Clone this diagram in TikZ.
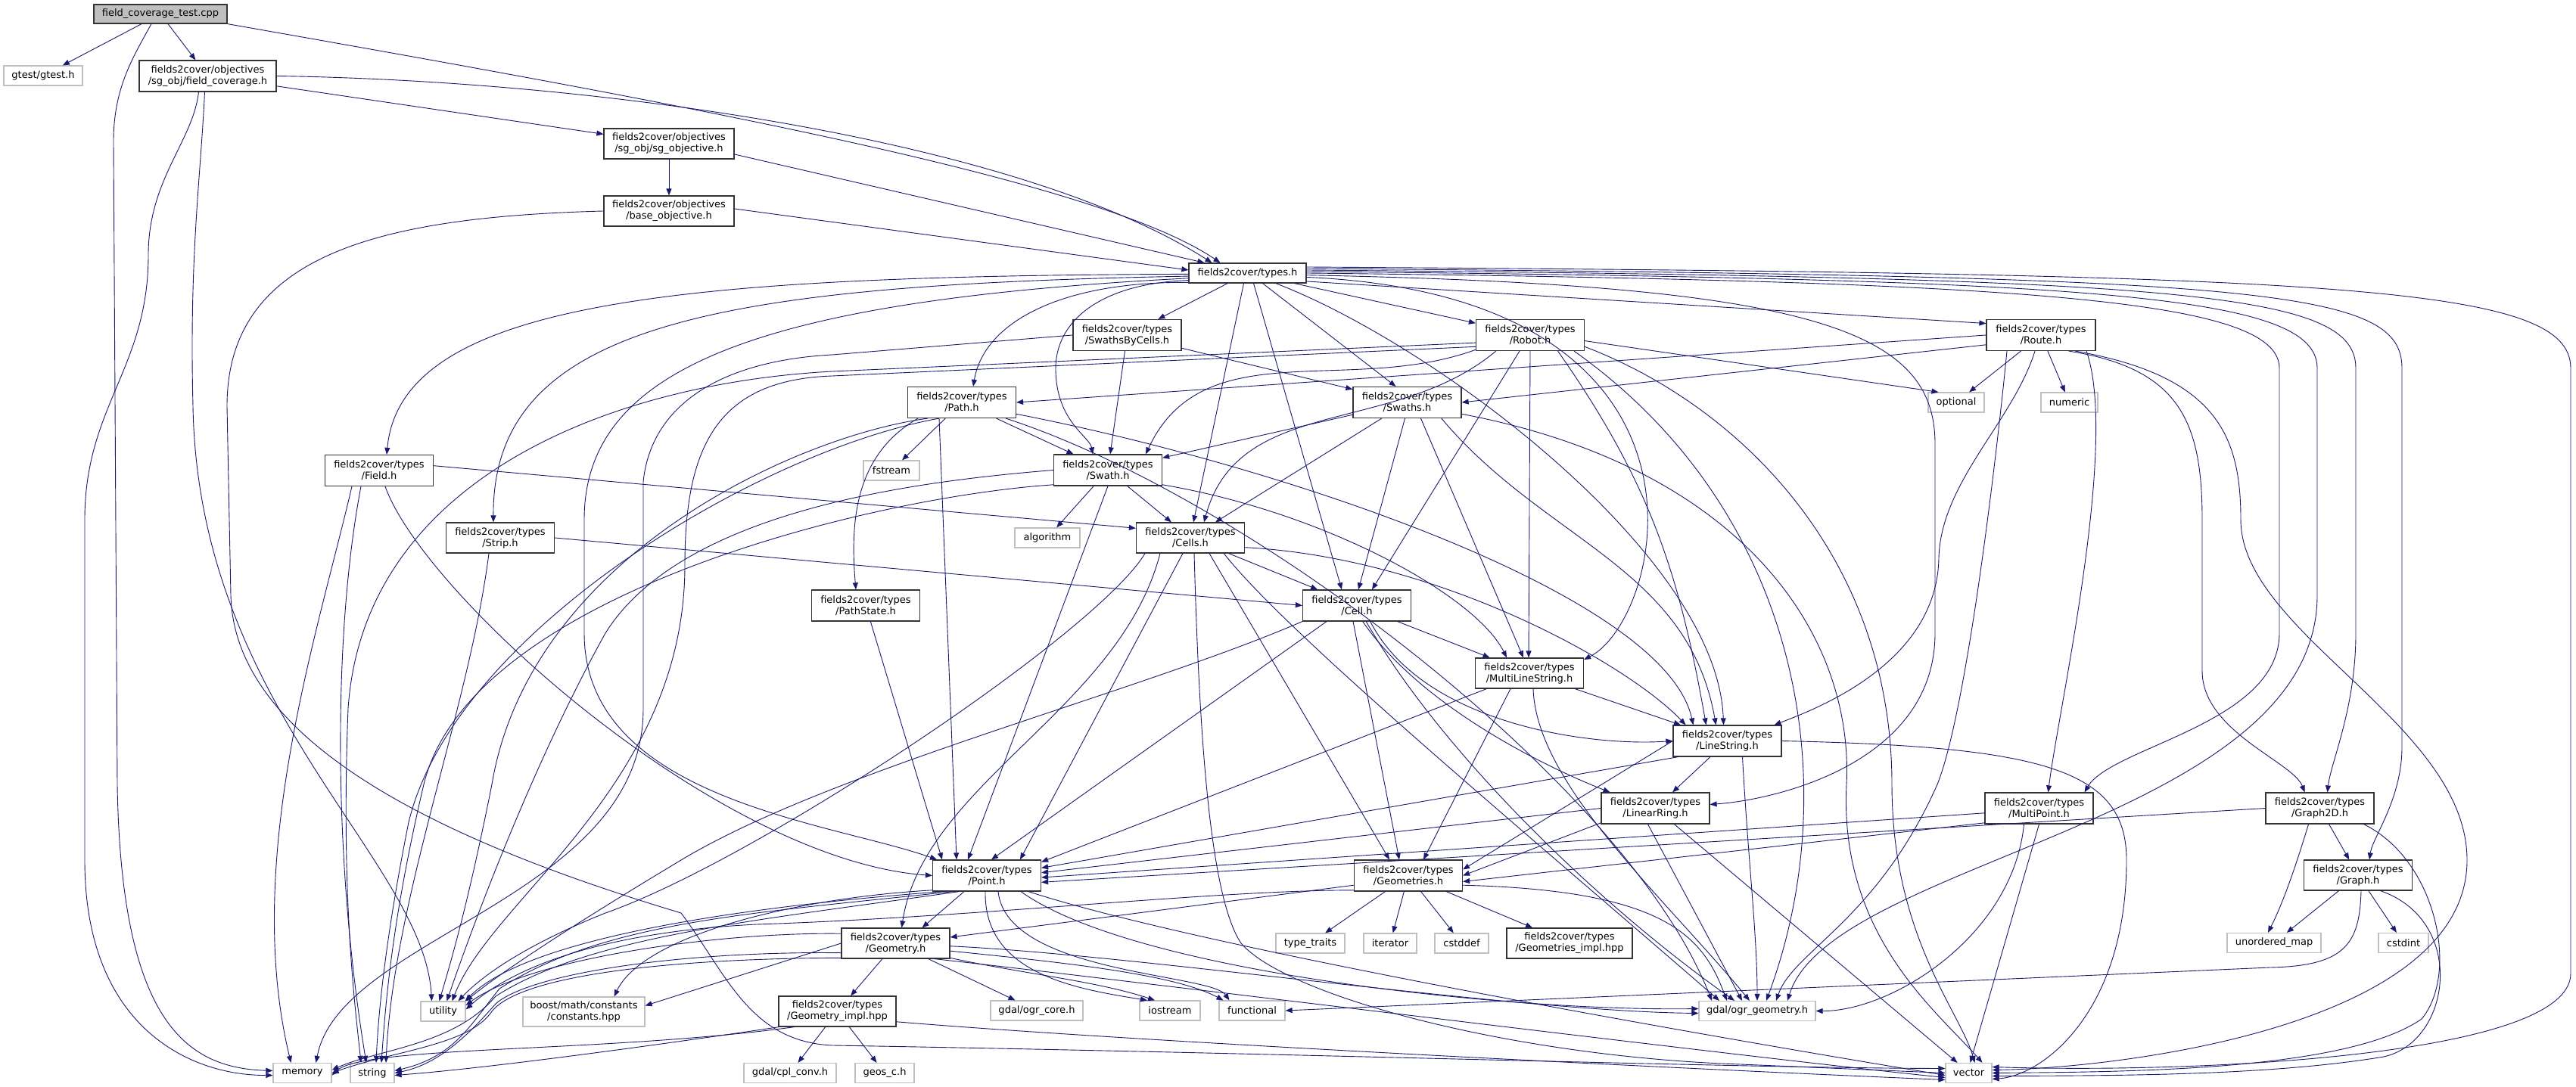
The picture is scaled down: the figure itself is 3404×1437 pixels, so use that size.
\documentclass[tikz,border=0pt]{standalone}
\usepackage{fontspec}
\setmainfont{DejaVu Sans}
\usetikzlibrary{arrows.meta}
\definecolor{ecol}{HTML}{191970}
\definecolor{gborder}{HTML}{BFBFBF}
\definecolor{rootgray}{HTML}{BFBFBF}
\definecolor{bordercol}{HTML}{333333}
\begin{document}
\begin{tikzpicture}[x=1pt,y=1pt,
  box/.style={draw=bordercol, line width=1.2pt, fill=white, minimum width=143pt, minimum height=41pt, inner sep=1pt, align=center, font=\fontsize{13}{15}\selectfont},
  sys/.style={draw=gborder, line width=1.2pt, fill=white, minimum height=26pt, inner sep=1pt, align=center, font=\fontsize{13}{15}\selectfont},
  e/.style={draw=ecol, line width=0.9pt, -{Triangle[length=9pt,width=7pt]}}]
\useasboundingbox[fill=white] (0,0) rectangle (3404,1437);
% ---------------- nodes
\node[box,fill=rootgray,minimum width=176pt,minimum height=25pt] (cpp) at (212,1418.5) {field\_coverage\_test.cpp};
\node[sys,minimum width=104pt] (gtest) at (57,1337) {gtest/gtest.h};
\node[box,minimum width=181pt] (fcov) at (274.5,1336.5) {fields2cover/objectives\\/sg\_obj/field\_coverage.h};
\node[box,minimum width=172pt,minimum height=40pt] (sgobj) at (884,1247) {fields2cover/objectives\\/sg\_obj/sg\_objective.h};
\node[box,minimum width=172pt,minimum height=40pt] (baseobj) at (884,1158) {fields2cover/objectives\\/base\_objective.h};
\node[box,minimum width=155pt,minimum height=26pt] (types) at (1648.5,1076) {fields2cover/types.h};
\node[box] (sbc) at (1489.5,994) {fields2cover/types\\/SwathsByCells.h};
\node[box] (robot) at (2022,994) {fields2cover/types\\/Robot.h};
\node[box,minimum width=144pt] (route) at (2697,994) {fields2cover/types\\/Route.h};
\node[box] (path) at (1271,905) {fields2cover/types\\/Path.h};
\node[box] (swaths) at (1859.5,905) {fields2cover/types\\/Swaths.h};
\node[sys,minimum width=74pt] (fstream) at (1178,815) {fstream};
\node[box] (swath) at (1464,815.5) {fields2cover/types\\/Swath.h};
\node[sys,minimum width=86pt] (algorithm) at (1384,726) {algorithm};
\node[box,minimum height=40pt] (cells) at (1573,726) {fields2cover/types\\/Cells.h};
\node[sys,minimum width=74pt] (optional) at (2585,905) {optional};
\node[sys,minimum width=75pt] (numeric) at (2734.5,905) {numeric};
\node[box] (field) at (501,815) {fields2cover/types\\/Field.h};
\node[box,minimum height=40pt] (strip) at (661,726) {fields2cover/types\\/Strip.h};
\node[box] (pathstate) at (1144,636.5) {fields2cover/types\\/PathState.h};
\node[box] (cell) at (1793,636.5) {fields2cover/types\\/Cell.h};
\node[box,minimum height=40pt] (mls) at (2021,547) {fields2cover/types\\/MultiLineString.h};
\node[box] (linestring) at (2282.5,457.5) {fields2cover/types\\/LineString.h};
\node[box] (linearring) at (2187.5,368.5) {fields2cover/types\\/LinearRing.h};
\node[box] (multipoint) at (2694.5,368.5) {fields2cover/types\\/MultiPoint.h};
\node[box] (graph2d) at (3065.5,368.5) {fields2cover/types\\/Graph2D.h};
\node[box,minimum height=40pt] (graph) at (3116,280) {fields2cover/types\\/Graph.h};
\node[sys,minimum width=124pt] (umap) at (3005,190.5) {unordered\_map};
\node[sys,minimum width=66pt] (cstdint) at (3176,190.5) {cstdint};
\node[box] (point) at (1304,279.5) {fields2cover/types\\/Point.h};
\node[box] (geometries) at (1861,279.5) {fields2cover/types\\/Geometries.h};
\node[box,minimum height=40pt] (geometry) at (1183.5,190) {fields2cover/types\\/Geometry.h};
\node[box,minimum width=155pt,minimum height=40pt] (geomimpl) at (1106.5,100) {fields2cover/types\\/Geometry\_impl.hpp};
\node[sys,minimum width=122pt] (ogrcore) at (1370,101) {gdal/ogr\_core.h};
\node[sys,minimum width=80pt] (iostream) at (1546,101) {iostream};
\node[sys,minimum width=87pt] (functional) at (1654.5,101) {functional};
\node[sys,minimum width=91pt] (typetraits) at (1731.5,190) {type\_traits};
\node[sys,minimum width=70pt] (iterator) at (1837,190) {iterator};
\node[sys,minimum width=71pt] (cstddef) at (1931.5,190) {cstddef};
\node[box,minimum width=166pt,minimum height=40pt] (geomsimpl) at (2074,190) {fields2cover/types\\/Geometries\_impl.hpp};
\node[sys,minimum width=154pt] (ogrgeom) at (2322,100.5) {gdal/ogr\_geometry.h};
\node[sys,minimum width=61pt] (vector) at (2601.5,18.5) {vector};
\node[sys,minimum width=59pt] (utility) at (585.5,100) {utility};
\node[sys,minimum width=161pt,minimum height=39pt] (boost) at (771.5,99.5) {boost/math/constants\\/constants.hpp};
\node[sys,minimum width=77pt] (memory) at (399.5,18.5) {memory};
\node[sys,minimum width=58pt] (string) at (492,18.5) {string};
\node[sys,minimum width=122pt] (cplconv) at (1044,18.5) {gdal/cpl\_conv.h};
\node[sys,minimum width=78pt] (geosc) at (1169,18.5) {geos\_c.h};
% ---------------- edges: top part
\draw[e] (cpp) -- (gtest);
\draw[e] (cpp) -- (fcov);
\draw[e] (cpp.south east) .. controls (900,1300) and (1450,1200) .. ([xshift=-36pt]types.north);
\draw[e] ([xshift=-12pt]cpp.south) .. controls (175,1360) and (150,1320) .. (150,1250) -- (155,400) .. controls (160,80) and (250,25) .. ([yshift=3pt]memory.west);
\draw[e] (fcov) -- (sgobj);
\draw[e] (fcov.east) .. controls (800,1330) and (1350,1250) .. ([xshift=-47pt]types.north);
\draw[e] ([xshift=-12pt]fcov.south) .. controls (255,1250) and (196,1200) .. (196,1100) .. controls (196,950) and (112,900) .. (112,750) -- (112,300) .. controls (112,80) and (250,15) .. ([yshift=-3pt]memory.west);
\draw[e] ([xshift=-4pt]fcov.south) .. controls (265,1200) and (250,1100) .. (255,900) .. controls (262,500) and (560,300) .. ([xshift=-15pt]utility.north);
\draw[e] (sgobj) -- (baseobj);
\draw[e] ([yshift=-14pt]sgobj.east) -- ([xshift=-57pt]types.north);
\draw[e] ([yshift=3pt]baseobj.east) -- ([yshift=4pt]types.west);
\draw[e] (baseobj.west) .. controls (500,1150) and (300,1100) .. (300,900) -- (305,650) .. controls (310,450) and (600,320) .. (900,230) .. controls (960,150) and (990,60) .. (1100,55) .. controls (1700,45) and (2300,25) .. ([yshift=6pt]vector.west);
% ---------------- types
\draw[e] (types) -- (sbc);
\draw[e] (types) -- (robot);
\draw[e] (types.-8) -- (route.168);
\draw[e] (types.189) .. controls (1400,1065) and (1300,1010) .. ([xshift=15pt]path.north);
\draw[e] (types.187) .. controls (1450,1062) and (1395,1010) .. (1395,950) .. controls (1395,880) and (1440,860) .. ([xshift=-20pt]swath.north);
\draw[e] ([xshift=-5pt]types.south) -- ([xshift=4pt]cells.north);
\draw[e] ([xshift=8pt]types.south) -- ([xshift=-20pt]cell.north);
\draw[e] ([xshift=20pt]types.south) -- ([xshift=-15pt]swaths.north);
\draw[e] (types.181) .. controls (900,1072) and (530,1040) .. ([xshift=10pt]field.north);
\draw[e] (types.183) .. controls (950,1060) and (650,1010) .. ([xshift=-9pt]strip.north);
\draw[e] (types.185) .. controls (1000,1040) and (772,950) .. (772,750) -- (772,600) .. controls (772,380) and (1100,350) .. ([xshift=-66pt]point.north);
\draw[e] (types.-20) .. controls (1900,980) and (2270,700) .. ([xshift=-5pt]linestring.north);
\draw[e] (types.-4) .. controls (2300,1045) and (2200,620) .. (mls.14);
\draw[e] (types.-2) .. controls (2400,1060) and (2557,1000) .. (2557,850) -- (2557,600) .. controls (2557,430) and (2350,380) .. ([yshift=5pt]linearring.east);
\draw[e] (types.east) .. controls (2700,1065) and (3012,1040) .. (3012,950) -- (3012,600) .. controls (3012,480) and (2790,450) .. ([xshift=60pt]multipoint.north);
\draw[e] ([yshift=2pt]types.east) .. controls (2800,1068) and (3062,1045) .. (3062,950) -- (3062,650) .. controls (3062,350) and (2420,300) .. ([xshift=40pt]ogrgeom.north);
\draw[e] ([yshift=4pt]types.east) .. controls (2900,1070) and (3113,1050) .. (3113,950) -- (3113,600) .. controls (3113,500) and (3080,430) .. ([xshift=10pt]graph2d.north);
\draw[e] ([yshift=6pt]types.east) .. controls (3000,1072) and (3174,1055) .. (3174,950) -- (3174,450) .. controls (3174,380) and (3135,330) .. ([xshift=15pt]graph.north);
\draw[e] ([yshift=8pt]types.east) .. controls (3100,1075) and (3397,1060) .. (3397,950) -- (3397,150) .. controls (3397,40) and (2900,18) .. ([yshift=8pt]vector.east);
% ---------------- SwathsByCells, Robot, Route
\draw[e] (sbc) -- (swaths);
\draw[e] (sbc) -- (swath);
\draw[e] (sbc.west) -- (1100,968) .. controls (950,960) and (860,900) .. (850,800) -- (850,500) .. controls (850,250) and (450,200) .. ([xshift=18pt]memory.north);
\draw[e] (robot.195) to[out=200,in=65] ([xshift=50pt]swath.north);
\draw[e] (robot.205) to[out=220,in=75] ([xshift=18pt]cells.north);
\draw[e] ([xshift=-14pt]robot.south) -- ([xshift=20pt]cell.north);
\draw[e] (robot.south) -- ([xshift=-1pt]mls.north);
\draw[e] (robot.-30) to[out=-55,in=100] ([xshift=-28pt]linestring.north);
\draw[e] (robot.-6) -- (optional.150);
\draw[e] (robot.-20) .. controls (2380,760) and (2440,400) .. ([xshift=12pt]ogrgeom.north);
\draw[e] (robot.-12) .. controls (2300,900) and (2500,700) .. (2500,400) .. controls (2500,200) and (2590,100) .. ([xshift=8pt]vector.north);
\draw[e] (robot.188) -- (1100,946) .. controls (800,930) and (480,800) .. (460,500) .. controls (450,250) and (470,100) .. ([xshift=-15pt]string.north);
\draw[e] (robot.192) -- (1100,940) .. controls (950,935) and (905,850) .. (905,690) .. controls (905,400) and (650,250) .. ([xshift=12pt]utility.north);
\draw[e] (route.west) -- (path.east);
\draw[e] (route.190) -- (swaths.east);
\draw[e] (route) -- (optional);
\draw[e] (route) -- (numeric);
\draw[e] ([xshift=-8pt]route.south) .. controls (2660,880) and (2565,800) .. (2562,700) .. controls (2560,560) and (2400,500) .. ([xshift=62pt]linestring.north);
\draw[e] ([xshift=-45pt]route.south) .. controls (2640,850) and (2600,500) .. (2560,400) .. controls (2480,220) and (2370,180) .. ([xshift=25pt]ogrgeom.north);
\draw[e] ([xshift=60pt]route.south) .. controls (2800,850) and (2720,500) .. ([xshift=12pt]multipoint.north);
\draw[e] (route.-30) .. controls (2880,950) and (2910,880) .. (2910,750) -- (2910,550) .. controls (2910,470) and (3030,430) .. ([xshift=-20pt]graph2d.north);
\draw[e] (route.-25) .. controls (2930,940) and (2961,860) .. (2961,750) .. controls (2961,600) and (3260,480) .. (3260,300) .. controls (3260,80) and (2800,25) .. ([yshift=4pt]vector.east);
% ---------------- Path, Swaths, Swath
\draw[e] (path) -- (fstream);
\draw[e] (path) -- (swath);
\draw[e] (path.200) to[out=210,in=95] ([xshift=-13pt]pathstate.north);
\draw[e] ([xshift=-30pt]path.south) -- ([xshift=-40pt]point.north);
\draw[e] (path.-12) .. controls (1700,820) and (2200,650) .. ([xshift=-45pt]linestring.north);
\draw[e] (path.-20) .. controls (1650,780) and (2150,400) .. ([xshift=-60pt]ogrgeom.north);
\draw[e] (path.205) .. controls (1050,860) and (700,700) .. (650,400) .. controls (620,250) and (600,180) .. ([xshift=-5pt]utility.north);
\draw[e] (path.215) .. controls (1000,840) and (600,600) .. (540,350) .. controls (510,200) and (500,100) .. ([xshift=5pt]string.north);
\draw[e] (swaths) -- (swath);
\draw[e] (swaths) -- (cells);
\draw[e] ([xshift=-3pt]swaths.south) -- ([xshift=2pt]cell.north);
\draw[e] ([xshift=18pt]swaths.south) -- ([xshift=-8pt]mls.north);
\draw[e] (swaths.-25) to[out=-50,in=100] ([xshift=-15pt]linestring.north);
\draw[e] (swaths.-12) .. controls (2300,820) and (2450,600) .. (2440,400) .. controls (2430,200) and (2560,100) .. ([xshift=18pt]vector.north);
\draw[e] (swath) -- (algorithm);
\draw[e] (swath) -- (cells);
\draw[e] (swath.south) -- ([xshift=-25pt]point.north);
\draw[e] (swath.-15) .. controls (1750,760) and (1950,650) .. ([xshift=-30pt]mls.north);
\draw[e] (swath.west) .. controls (1200,800) and (900,760) .. (800,600) .. controls (700,420) and (620,200) .. ([xshift=5pt]utility.north);
\draw[e] (swath.195) .. controls (1150,780) and (620,650) .. (560,400) .. controls (520,230) and (510,120) .. ([xshift=12pt]string.north);
% ---------------- Field, Strip, PathState
\draw[e] (field.5) -- (cells.170);
\draw[e] ([xshift=-36pt]field.south) .. controls (420,600) and (320,300) .. ([xshift=-15pt]memory.north);
\draw[e] ([xshift=-24pt]field.south) .. controls (440,600) and (440,300) .. ([xshift=-8pt]string.north);
\draw[e] ([xshift=8pt]field.south) .. controls (560,650) and (950,300) .. (point.west);
\draw[e] (strip.east) -- (cell.west);
\draw[e] ([xshift=-15pt]strip.south) .. controls (620,500) and (520,250) .. ([xshift=18pt]string.north);
\draw[e] (pathstate) -- ([xshift=-59pt]point.north);
% ---------------- Cells, Cell
\draw[e] (cells) -- (cell);
\draw[e] ([xshift=-10pt]cells.south) -- ([xshift=44pt]point.north);
\draw[e] ([xshift=-40pt]cells.south) .. controls (1480,500) and (1220,400) .. ([xshift=8pt]geometry.north);
\draw[e] ([xshift=25pt]cells.south) -- ([xshift=-25pt]geometries.north);
\draw[e] (cells.-10) .. controls (1900,700) and (2150,560) .. ([xshift=-55pt]linestring.north);
\draw[e] (cells.-25) .. controls (1700,600) and (2000,350) .. ([xshift=-50pt]ogrgeom.north);
\draw[e] ([xshift=-60pt]cells.south) .. controls (1450,600) and (1000,300) .. (800,230) .. controls (700,190) and (640,150) .. ([xshift=20pt]utility.north);
\draw[e] ([xshift=5pt]cells.south) .. controls (1585,450) and (1600,250) .. (1640,190) .. controls (1700,120) and (2000,40) .. (2300,30) -- ([yshift=0pt]vector.west);
\draw[e] (cell) -- (mls);
\draw[e] (cell.-50) .. controls (1880,480) and (2100,450) .. (linestring.west);
\draw[e] (cell.-70) .. controls (1880,500) and (2050,420) .. ([xshift=-60pt]linearring.north);
\draw[e] ([xshift=-40pt]cell.south) -- ([xshift=6pt]point.north);
\draw[e] ([xshift=-5pt]cell.south) -- ([xshift=-12pt]geometries.north);
\draw[e] (cell.-60) .. controls (1900,450) and (2100,250) .. ([xshift=-30pt]ogrgeom.north);
\draw[e] (cell.south west) .. controls (1500,520) and (1100,420) .. (900,300) .. controls (750,210) and (660,150) .. (utility.north east);
% ---------------- MultiLineString, LineString, LinearRing, MultiPoint
\draw[e] (mls) -- (linestring);
\draw[e] ([xshift=-25pt]mls.south) -- ([xshift=20pt]geometries.north);
\draw[e] (mls.200) -- (point.14);
\draw[e] ([xshift=5pt]mls.south) .. controls (2030,400) and (2200,250) .. ([xshift=-10pt]ogrgeom.north);
\draw[e] (linestring) -- (linearring);
\draw[e] (linestring.198) -- (point.8);
\draw[e] (linestring.west) -- ([yshift=8pt]geometries.east);
\draw[e] ([xshift=20pt]linestring.south) .. controls (2310,300) and (2322,200) .. (ogrgeom.north);
\draw[e] (linestring.east) .. controls (2700,450) and (2810,420) .. (2810,300) .. controls (2810,100) and (2700,15) .. ([yshift=-8pt]vector.east);
\draw[e] (linearring.west) -- (point.3);
\draw[e] (linearring.195) -- (geometries.east);
\draw[e] ([xshift=-10pt]linearring.south) -- ([xshift=-20pt]ogrgeom.north);
\draw[e] (linearring) -- ([xshift=-15pt]vector.north);
\draw[e] (multipoint.185) -- (point.-2);
\draw[e] (multipoint.195) -- ([yshift=-8pt]geometries.east);
\draw[e] ([xshift=-20pt]multipoint.south) .. controls (2660,200) and (2500,100) .. (ogrgeom.east);
\draw[e] (multipoint.south) -- ([xshift=2pt]vector.north);
% ---------------- Graph2D, Graph
\draw[e] (graph2d) -- (graph);
\draw[e] ([xshift=-15pt]graph2d.south) .. controls (3030,280) and (3015,240) .. ([xshift=-8pt]umap.north);
\draw[e] (graph2d.west) -- (point.-7);
\draw[e] (graph2d.-20) .. controls (3220,300) and (3250,150) .. (3200,90) .. controls (3100,20) and (2800,20) .. ([yshift=0pt]vector.east);
\draw[e] (graph) -- (umap);
\draw[e] (graph) -- (cstdint);
\draw[e] ([xshift=4pt]graph.south) .. controls (3118,190) and (3100,160) .. (3000,158) -- (functional.east);
\draw[e] (graph.-35) .. controls (3260,220) and (3240,60) .. (3150,40) .. controls (3000,15) and (2800,15) .. ([yshift=-4pt]vector.east);
% ---------------- Point, Geometry, Geometries
\draw[e] ([xshift=-30pt]point.south) -- ([xshift=35pt]geometry.north);
\draw[e] ([xshift=-2pt]point.south) .. controls (1300,150) and (1420,130) .. ([xshift=-30pt]iostream.north);
\draw[e] ([xshift=15pt]point.south) .. controls (1330,150) and (1600,150) .. ([xshift=-30pt]functional.north);
\draw[e] ([xshift=45pt]point.south) .. controls (1500,150) and (2000,100) .. ([yshift=3pt]ogrgeom.west);
\draw[e] ([xshift=55pt]point.south) .. controls (1600,180) and (2300,60) .. ([yshift=-3pt]vector.west);
\draw[e] (point.195) .. controls (1050,250) and (850,200) .. ([xshift=40pt]boost.north);
\draw[e] (point.200) .. controls (1000,240) and (700,200) .. (utility.25);
\draw[e] (point.205) .. controls (1000,230) and (800,220) .. (660,130) .. controls (620,80) and (600,40) .. ([yshift=3pt]string.east);
\draw[e] (point.210) .. controls (1000,220) and (780,200) .. (655,120) .. controls (600,55) and (500,50) .. ([yshift=4pt]memory.east);
\draw[e] (geometry) -- (geomimpl);
\draw[e] (geometry) -- (ogrcore);
\draw[e] (geometry.-15) .. controls (1350,150) and (1450,140) .. ([xshift=-20pt]iostream.north);
\draw[e] (geometry.-8) .. controls (1400,165) and (1550,150) .. ([xshift=-38pt]functional.north);
\draw[e] (geometry.-3) .. controls (1500,175) and (2000,100) .. ([yshift=-3pt]ogrgeom.west);
\draw[e] (geometry.-22) .. controls (1500,140) and (2300,40) .. ([yshift=-6pt]vector.west);
\draw[e] (geometry.west) -- ([yshift=8pt]boost.east);
\draw[e] (geometry.170) .. controls (950,205) and (700,170) .. (utility.15);
\draw[e] (geometry.190) .. controls (900,180) and (700,150) .. (655,110) .. controls (620,70) and (580,30) .. (string.east);
\draw[e] (geometry.195) .. controls (900,170) and (690,150) .. (650,100) .. controls (620,55) and (520,48) .. (memory.east);
\draw[e] (geomimpl) -- (cplconv);
\draw[e] (geomimpl) -- (geosc);
\draw[e] (geomimpl.195) .. controls (900,60) and (650,25) .. ([yshift=-3pt]string.east);
\draw[e] (geomimpl.200) .. controls (800,45) and (480,55) .. ([yshift=-3pt]memory.east);
\draw[e] (geomimpl.-10) .. controls (1500,60) and (2200,25) .. ([yshift=-9pt]vector.west);
\draw[e] (geometries) -- (typetraits);
\draw[e] (geometries) -- (iterator);
\draw[e] (geometries) -- (cstddef);
\draw[e] (geometries) -- (geomsimpl);
\draw[e] (geometries.190) -- ([yshift=8pt]geometry.east);
\draw[e] (geometries.-10) .. controls (2200,260) and (2250,200) .. ([xshift=-40pt]ogrgeom.north);
\draw[e] (geometries.195) .. controls (1600,260) and (1300,225) .. (1000,215) .. controls (800,205) and (680,160) .. (utility.5);
\end{tikzpicture}
\end{document}
